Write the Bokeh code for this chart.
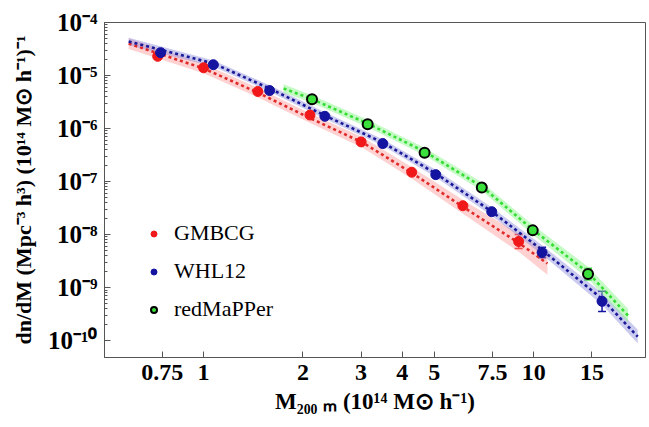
from bokeh.plotting import figure
from bokeh.models import (ColumnDataSource, FixedTicker, CustomJSTickFormatter, Legend,
                          LegendItem, Whisker, TeeHead, Range1d)
from bokeh.embed import file_html
from bokeh.resources import INLINE

# ---------------- data ----------------
gmbcg_mass = [0.726, 1.0, 1.46, 2.1, 3.0, 4.27, 6.1, 9.0]
gmbcg_dndm = [2.3e-5, 1.4e-5, 5.0e-6, 1.8e-6, 5.6e-7, 1.5e-7, 3.5e-8, 7.4e-9]
gmbcg_err_dex = [0.0, 0.0, 0.0, 0.0, 0.0, 0.0, 0.03, 0.13]

whl_mass = [0.741, 1.07, 1.585, 2.33, 3.49, 5.05, 7.46, 10.6, 16.1]
whl_dndm = [2.7e-5, 1.6e-5, 5.2e-6, 1.7e-6, 5.2e-7, 1.35e-7, 2.7e-8, 4.6e-9, 5.5e-10]
whl_err_dex = [0.0, 0.0, 0.0, 0.0, 0.0, 0.0, 0.03, 0.10, 0.19]

redm_mass = [2.13, 3.14, 4.67, 6.96, 9.93, 14.6]
redm_dndm = [3.55e-6, 1.2e-6, 3.5e-7, 7.7e-8, 1.2e-8, 1.8e-9]
redm_err_dex = [0.0, 0.0, 0.0, 0.0, 0.04, 0.11]

# fitted mass functions (dashed curves) and their band half-widths (dex)
gmbcg_fit_mass = [0.593, 1.0, 1.457, 2.08, 3.03, 4.30, 6.09, 9.07, 11.0]
gmbcg_fit_dndm = [4.0e-5, 1.36e-5, 4.78e-6, 1.62e-6, 5.45e-7, 1.42e-7, 3.37e-8, 6.76e-9, 2.84e-9]
gmbcg_fit_band = [0.10, 0.09, 0.09, 0.09, 0.10, 0.11, 0.13, 0.17, 0.21]

whl_fit_mass = [0.593, 1.072, 1.585, 2.33, 3.49, 5.05, 7.46, 10.65, 16.07, 20.65]
whl_fit_dndm = [4.38e-5, 1.68e-5, 5.69e-6, 1.76e-6, 5.45e-7, 1.42e-7, 2.72e-8, 5.0e-9, 6.2e-10, 1.19e-10]
whl_fit_band = [0.07, 0.06, 0.06, 0.06, 0.06, 0.07, 0.08, 0.09, 0.11, 0.13]

redm_fit_mass = [1.747, 2.11, 3.14, 4.67, 6.96, 9.93, 14.6, 19.3]
redm_fit_dndm = [5.69e-6, 3.68e-6, 1.24e-6, 3.68e-7, 8.05e-8, 1.24e-8, 1.92e-9, 2.97e-10]
redm_fit_band = [0.08, 0.07, 0.07, 0.07, 0.08, 0.09, 0.11, 0.13]

x_ticks = [0.75, 1, 2, 3, 4, 5, 7.5, 10, 15]
y_ticks = [1e-10, 1e-9, 1e-8, 1e-7, 1e-6, 1e-5, 1e-4]

series_names = ["GMBCG", "WHL12", "redMaPPer"]

# ---------------- figure ----------------
SERIF = "Liberation Serif"

p = figure(width=649, height=427, x_axis_type="log", y_axis_type="log",
           x_range=Range1d(0.501, 21.8), y_range=Range1d(4.8e-11, 1.0e-4),
           output_backend="svg", toolbar_location=None,
           min_border_left=104, min_border_right=4, min_border_top=22, min_border_bottom=70)

p.grid.visible = False
p.outline_line_color = "#555555"
p.outline_line_width = 1
p.background_fill_color = "white"

minor = [m * t for t in y_ticks[:-1] for m in range(2, 10)]
p.yaxis.ticker = FixedTicker(ticks=y_ticks, minor_ticks=minor)
p.xaxis.ticker = FixedTicker(ticks=x_ticks)

p.yaxis.formatter = CustomJSTickFormatter(code="""
const e = Math.round(Math.log10(tick));
const sup = {"-":"\u207b","0":"\u2070","1":"\u00b9","2":"\u00b2","3":"\u00b3","4":"\u2074",
             "5":"\u2075","6":"\u2076","7":"\u2077","8":"\u2078","9":"\u2079"};
return "10" + String(e).split("").map(c => sup[c]).join("");
""")
p.xaxis.formatter = CustomJSTickFormatter(code="return String(tick);")

for ax in (p.xaxis[0], p.yaxis[0]):
    ax.axis_line_color = "#555555"
    ax.major_tick_line_color = "#555555"
    ax.minor_tick_line_color = "#555555"
    ax.major_tick_in = 6
    ax.major_tick_out = 0
    ax.minor_tick_in = 3
    ax.minor_tick_out = 0
    ax.major_label_text_font = SERIF
    ax.major_label_text_font_style = "bold"
    ax.major_label_text_color = "black"
    ax.axis_label_text_font = SERIF
    ax.axis_label_text_font_style = "bold"
    ax.axis_label_text_color = "black"

p.xaxis.major_label_text_font_size = "24px"
p.yaxis.major_label_text_font_size = "25px"
p.xaxis.axis_label_text_font_size = "23px"
p.yaxis.axis_label_text_font_size = "22px"
p.xaxis.major_label_standoff = 7
p.xaxis.axis_label_standoff = 6
p.yaxis.major_label_standoff = 7
p.yaxis.axis_label_standoff = 9

p.xaxis.axis_label = "M\u2082\u2080\u2080 \u2098 (10\u00b9\u2074 M\u2299 h\u207b\u00b9)"
p.yaxis.axis_label = "dn/dM (Mpc\u207b\u00b3 h\u00b3) (10\u00b9\u2074 M\u2299 h\u207b\u00b9)\u207b\u00b9"

styles = [
    dict(pt="#f01818", line="#e02a2a", band="#ff8c8c", band_alpha=0.40, outline=None),
    dict(pt="#1414a0", line="#1a1a99", band="#8c8cdc", band_alpha=0.45, outline=None),
    dict(pt="#3ce03c", line="#33dd33", band="#8cf58c", band_alpha=0.50, outline="black"),
]

fits = [(gmbcg_fit_mass, gmbcg_fit_dndm, gmbcg_fit_band),
        (whl_fit_mass, whl_fit_dndm, whl_fit_band),
        (redm_fit_mass, redm_fit_dndm, redm_fit_band)]
points = [(gmbcg_mass, gmbcg_dndm, gmbcg_err_dex),
          (whl_mass, whl_dndm, whl_err_dex),
          (redm_mass, redm_dndm, redm_err_dex)]

# bands
for (fm, fv, fb), st in zip(fits, styles):
    lo = [v * 10 ** (-b) for v, b in zip(fv, fb)]
    hi = [v * 10 ** b for v, b in zip(fv, fb)]
    p.varea(x=fm, y1=lo, y2=hi, fill_color=st["band"], fill_alpha=st["band_alpha"])

# dashed fit lines
for (fm, fv, fb), st in zip(fits, styles):
    p.line(fm, fv, line_color=st["line"], line_width=2.6, line_dash="3 3")

# points with error bars
renderers = []
for (m, v, e), st in zip(points, styles):
    lo = [val * 10 ** (-d) for val, d in zip(v, e)]
    hi = [val * 10 ** d for val, d in zip(v, e)]
    src = ColumnDataSource(dict(m=m, v=v, lo=lo, hi=hi))
    wh = Whisker(base="m", lower="lo", upper="hi", source=src, dimension="height",
                 line_color=st["pt"], line_width=1.5,
                 upper_head=TeeHead(size=8, line_color=st["pt"], line_width=1.5),
                 lower_head=TeeHead(size=8, line_color=st["pt"], line_width=1.5))
    p.add_layout(wh)
    lc = st["outline"] or st["pt"]
    lw = 2 if st["outline"] else 1
    r = p.scatter("m", "v", source=src, size=10, fill_color=st["pt"], line_color=lc, line_width=lw)
    renderers.append(r)

# legend marker size is 0.4 * min(glyph box) -> 15px box gives ~6px markers
legend = Legend(items=[LegendItem(label=n, renderers=[r]) for n, r in zip(series_names, renderers)],
                location=(37, 30), border_line_alpha=0, background_fill_alpha=0,
                label_text_font=SERIF, label_text_font_size="22px", label_text_color="black",
                spacing=12, glyph_height=15, glyph_width=15, label_height=22,
                padding=5, label_standoff=13)
p.add_layout(legend)

open("out.html", "w").write(file_html(p, INLINE))
